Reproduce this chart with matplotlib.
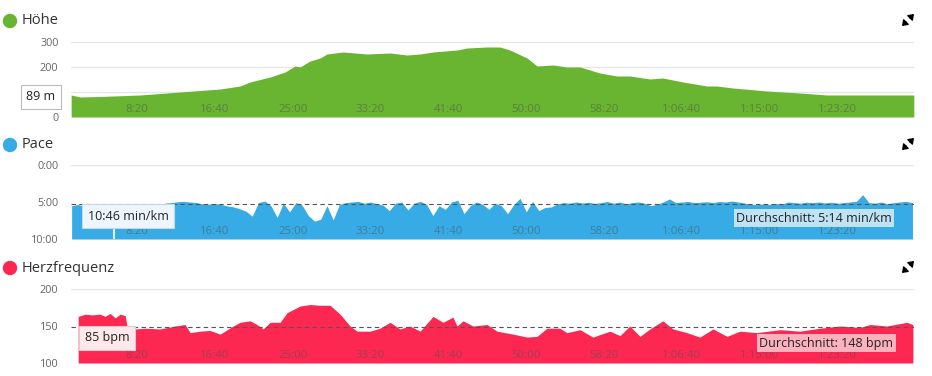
import numpy as np
import matplotlib
matplotlib.use("Agg")
import matplotlib.pyplot as plt
from matplotlib.patches import Circle

plt.rcParams['font.family'] = ['Open Sans', 'DejaVu Sans']

## Data (time in seconds)
elev_t = [77, 135, 263, 520, 777, 1034, 1162, 1226, 1355, 1451, 1515, 1547, 1611, 1676,
          1720, 1823, 1977, 2125, 2234, 2318, 2401, 2555, 2619, 2748, 2831, 2895, 3005,
          3069, 3171, 3261, 3345, 3473, 3582, 3665, 3794, 3877, 4006, 4160, 4224, 4327,
          4545, 4757, 4931, 5187, 5399, 5489]
elev_v = [88, 80, 82, 88, 100, 112, 124, 140, 160, 180, 204, 200, 224, 236,
          252, 260, 252, 256, 248, 252, 260, 268, 276, 280, 280, 268, 236,
          204, 208, 200, 200, 176, 164, 164, 152, 156, 140, 124, 124, 116,
          104, 96, 88, 88, 88, 88]

# pace sampled every 40 s starting at 80 s, values in s/km
pace_v = [330, 320, 335, 325, 318, 330, 322, 315, 320, 318, 312, 320, 315, 322, 318, 310,
          305, 298, 295, 300, 305, 315, 318, 312, 320, 332, 340, 355, 375, 415, 305, 292,
          330, 425, 310, 380, 305, 325, 410, 455, 440, 330, 445, 320, 305, 300, 295, 310,
          300, 315, 325, 370, 310, 300, 365, 310, 295, 320, 410, 330, 360, 300, 285, 395,
          330, 300, 320, 360, 310, 330, 395, 320, 270, 380, 295, 370, 345, 340, 315, 305,
          310, 300, 308, 302, 312, 305, 296, 310, 300, 315, 305, 300, 310, 330, 318, 300,
          275, 305, 300, 296, 305, 302, 298, 305, 296, 300, 292, 300, 308, 318, 322, 315,
          320, 312, 318, 300, 305, 310, 302, 306, 300, 308, 302, 310, 305, 300, 295, 240,
          305, 310, 300, 315, 305, 300, 295, 305]
pace_t = np.arange(len(pace_v)) * 40 + 80
pace_avg = 314
pace_cursor = 353

hr_t = [122, 167, 212, 263, 295, 327, 360, 392, 424, 437, 456, 488, 552, 648, 745, 809,
        841, 905, 969, 1034, 1117, 1162, 1226, 1271, 1310, 1355, 1419, 1464, 1547, 1611,
        1676, 1740, 1804, 1868, 1913, 1997, 2061, 2125, 2189, 2253, 2318, 2401, 2465,
        2529, 2555, 2594, 2658, 2748, 2812, 2915, 3005, 3069, 3133, 3216, 3261, 3345,
        3428, 3537, 3602, 3665, 3730, 3794, 3877, 3942, 4032, 4115, 4199, 4289, 4372,
        4481, 4629, 4757, 4886, 5014, 5142, 5207, 5316, 5444, 5483]
hr_v = [163, 166, 165, 166, 163, 167, 161, 166, 164, 148, 142, 146, 147, 146, 150, 152,
        141, 143, 144, 139, 150, 155, 157, 152, 146, 155, 155, 168, 177, 179,
        178, 178, 166, 150, 143, 143, 147, 155, 146, 150, 143, 163, 155,
        162, 150, 157, 150, 152, 143, 139, 135, 136, 147, 147, 141, 145,
        135, 143, 137, 150, 136, 146, 157, 146, 141, 135, 146, 136, 143,
        141, 145, 143, 147, 150, 148, 152, 150, 155, 152]
hr_avg = 148

x_ticks = list(range(500, 5001, 500))
t_min, t_max = 76, 5490

green = '#69b431'
blue = '#36abe5'
red = '#fd2852'


def fmt_time(s):
    h, m, sec = s // 3600, (s % 3600) // 60, s % 60
    if h:
        return f"{h}:{m:02d}:{sec:02d}"
    return f"{m}:{sec:02d}"


W, H = 932, 376
fig = plt.figure(figsize=(W / 100, H / 100), dpi=100)


def make_axes(y_top, y_bot):
    ax = fig.add_axes([71 / W, 1 - y_bot / H, 843 / W, (y_bot - y_top) / H])
    for s in ax.spines.values():
        s.set_visible(False)
    ax.set_xlim(t_min, t_max)
    ax.set_xticks(x_ticks)
    ax.set_xticklabels([fmt_time(t) for t in x_ticks])
    ax.tick_params(axis='x', length=0, pad=-9, labelsize=8.2,
                   labelcolor=(0.3, 0.3, 0.3, 0.5))
    ax.tick_params(axis='y', length=0, pad=9, labelsize=7.8, labelcolor='#666666')
    ax.set_axisbelow(False)
    ax.patch.set_alpha(0)
    return ax


## Elevation
ax1 = make_axes(42, 117)
ax1.set_ylim(0, 300)
ax1.set_yticks([0, 100, 200, 300])
for v in [100, 200, 300]:
    ax1.axhline(v, color='#e6e6e6', lw=1, zorder=0)
ax1.fill_between(elev_t, elev_v, 0, color=green, lw=0, zorder=1)

## Pace
ax2 = make_axes(165, 239)
ax2.set_ylim(600, 0)
ax2.set_yticks([0, 300, 600])
ax2.set_yticklabels(['0:00', '5:00', '10:00'])
ax2.axhline(0, color='#e6e6e6', lw=1, zorder=0)
ax2.fill_between(pace_t, pace_v, 600, color=blue, lw=0, zorder=1)
ax2.axhline(pace_avg, color='#555555', lw=0.8, ls=(0, (4, 3)), zorder=2)
ax2.plot([pace_cursor, pace_cursor], [600, 280], color='white', lw=1.5, alpha=0.85, zorder=2)

## Heart rate
ax3 = make_axes(289, 363)
ax3.set_ylim(100, 200)
ax3.set_yticks([100, 150, 200])
ax3.axhline(200, color='#e6e6e6', lw=1, zorder=0)
ax3.fill_between(hr_t, hr_v, 100, color=red, lw=0, zorder=1)
ax3.axhline(hr_avg, color='#555555', lw=0.8, ls=(0, (4, 3)), zorder=2)

## Overlay in pixel coordinates for titles, tooltips and icons
ov = fig.add_axes([0, 0, 1, 1])
ov.set_xlim(0, W)
ov.set_ylim(H, 0)
ov.axis('off')
ov.patch.set_alpha(0)

arrow = dict(arrowstyle='-|>,head_width=0.22,head_length=0.3', color='black', lw=1.1,
             shrinkA=0, shrinkB=0)
titles = [('Höhe', green, 21), ('Pace', blue, 145), ('Herzfrequenz', red, 268)]
for name, col, y in titles:
    ov.add_patch(Circle((10, y), 6.5, color=col))
    ov.text(22, y, name, fontsize=10.5, color='#333333', va='center', ha='left')
    # expand icon
    ov.annotate('', xy=(914, y - 7), xytext=(910, y - 3), arrowprops=arrow)
    ov.annotate('', xy=(902, y + 5), xytext=(906, y + 1), arrowprops=arrow)

tooltips = [('89 m', 41, 97, 'white', '#bbbbbb'),
            ('10:46 min/km', 128, 216, '#ecf6fc', '#c8d8e0'),
            ('85 bpm', 107, 338, '#fde8ec', '#e0c8cc')]
for txt, x, y, bg, ec in tooltips:
    ov.text(x, y, txt, fontsize=9, color='#222222', ha='center', va='center',
            bbox=dict(boxstyle='square,pad=0.45', fc=bg, ec=ec, lw=0.8))

ov.text(814, 218, 'Durchschnitt: 5:14 min/km', fontsize=9, color='#222222',
        ha='center', va='center',
        bbox=dict(boxstyle='square,pad=0.2', fc=(0.88, 0.95, 0.98, 0.8), ec='none'))
ov.text(826, 343, 'Durchschnitt: 148 bpm', fontsize=9, color='#222222',
        ha='center', va='center',
        bbox=dict(boxstyle='square,pad=0.2', fc=(0.99, 0.83, 0.86, 0.8), ec='none'))

plt.savefig('out.png', dpi=100)
